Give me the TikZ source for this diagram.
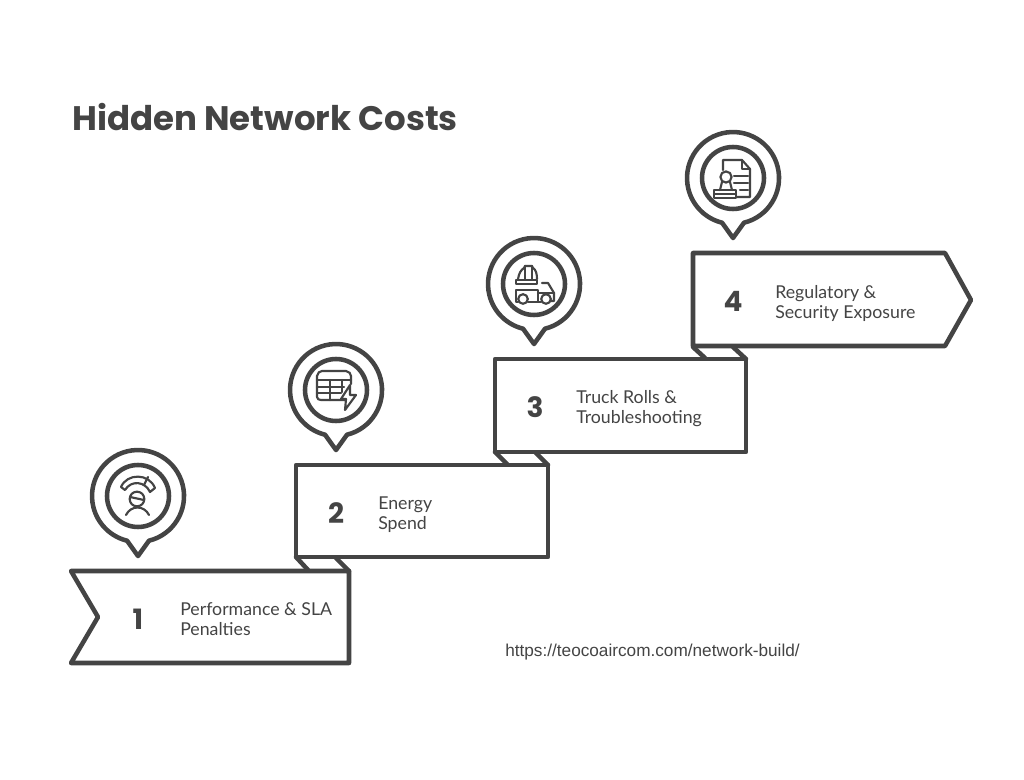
\documentclass[tikz,border=0pt]{standalone}
\usepackage{fontspec}
\setmainfont{Lato}
\newfontfamily\titlefont{Poppins}
\newfontfamily\urlfont{Liberation Sans}
\definecolor{inkGrey}{RGB}{68,68,68}

\begin{document}
\begin{tikzpicture}[x=0.75pt, y=-0.75pt, line join=round, line cap=round]%
  \tikzset{ribbon/.style={draw=inkGrey,fill=white,line width=3.4pt}}
  \tikzset{fold/.style={draw=inkGrey,line width=3.4pt}}
  \tikzset{pinline/.style={draw=inkGrey,fill=white,line width=3.4pt}}
  \tikzset{ringnode/.style={draw=inkGrey,circle,line width=3.4pt,minimum size=46.5pt,inner sep=0pt}}
  \tikzset{icon/.style={draw=inkGrey,line width=1.6pt}}
  \tikzset{stepnum/.style={text=inkGrey,font=\titlefont\bfseries\fontsize{21}{21}\selectfont,inner sep=0pt}}
  \tikzset{steptext/.style={text=inkGrey,anchor=west,align=left,inner sep=0pt,font=\fontsize{13.3}{15}\selectfont}}

  \useasboundingbox (0,0) rectangle (1024,780);

  \node[anchor=west, inner sep=0pt, text=inkGrey, font=\titlefont\bfseries\fontsize{25.5}{25.5}\selectfont] at (72,117) (title) {Hidden Network Costs};
  \node[anchor=west, inner sep=0pt, text=inkGrey, font=\urlfont\fontsize{12.9}{12.9}\selectfont] at (505,652) (url) {https://teocoaircom.com/network-build/};

  \draw[fold] (296,557) -- (308,570);
  \draw[fold] (336,558) -- (349,571);
  \draw[fold] (495,452) -- (507,464);
  \draw[fold] (535,452) -- (548,465);
  \draw[fold] (693,347) -- (705,358);
  \draw[fold] (733,347) -- (746,359);

  \draw[ribbon] (71,571) -- (349,571) -- (349,663) -- (71,663) -- (98,617) -- cycle;
  \draw[ribbon] (296,465) -- (548,465) -- (548,557) -- (296,557) -- cycle;
  \draw[ribbon] (495,359) -- (746,359) -- (746,452) -- (495,452) -- cycle;
  \draw[ribbon] (693,253) -- (945,253) -- (971,300) -- (945,346) -- (693,346) -- cycle;

  \foreach \n/\cx/\cy in {1/138/496, 2/336/390, 3/534/284, 4/733/178} {
    \draw[pinline] ({\cx+11},{\cy+44.7}) arc[start angle=-76.2, end angle=256.2, radius=34.5pt] -- ({\cx},{\cy+60}) -- cycle;
    \node[ringnode] at (\cx,\cy) (ring\n) {};
  }

  \node[stepnum] at (138,619) (num1) {1};
  \node[stepnum] at (336,513) (num2) {2};
  \node[stepnum] at (535,407) (num3) {3};
  \node[stepnum] at (733,301) (num4) {4};

  \node[steptext] at (180,619) (text1) {Performance \& SLA\\Penalties};
  \node[steptext] at (378,515) (text2) {Energy\\Spend};
  \node[steptext] at (576,409) (text3) {Truck Rolls \&\\Troubleshooting};
  \node[steptext] at (775,303) (text4) {Regulatory \&\\Security Exposure};

  \draw[icon] (121,487) .. controls (127,473) and (149,473) .. (155,488) -- (150,492) .. controls (145,481) and (131,480) .. (125,490) -- cycle;
  \draw[icon] (144,485) -- (148,477);
  \draw[icon] (137,499) circle[radius=5.5pt];
  \draw[icon] (130,497) -- (144,500);
  \draw[icon] (126,515) .. controls (131,505) and (144,505) .. (149,515);

  \draw[icon] (346,400) -- (321,400) .. controls (319,400) and (317,399) .. (317,397) -- (317,376) .. controls (317,373) and (320,371) .. (322,371) -- (346,371) .. controls (349,371) and (351,374) .. (351,376) -- (351,384);
  \draw[icon] (317,380) -- (351,380);
  \draw[icon] (317,387) -- (344,387);
  \draw[icon] (317,393) -- (341,393);
  \draw[icon] (330,380) -- (330,400);
  \draw[icon] (342,380) -- (342,392);
  \draw[icon] (350,385) -- (341,399) -- (346,399) -- (345,410) -- (356,395) -- (350,395) -- cycle;

  \draw[icon] (518,279) .. controls (519,273) and (521,270) .. (524,268) -- (525,266) -- (532,266) -- (533,268) .. controls (536,270) and (537,274) .. (537,279);
  \draw[icon] (525,266) -- (525,279);
  \draw[icon] (532,266) -- (532,279);
  \draw[icon] (516,280) rectangle (537,284);
  \draw[icon] (518,302) -- (516,302) -- (516,290) -- (538,290) -- (538,302) -- (528,302);
  \draw[icon] (523,299) circle[radius=3.6pt];
  \draw[icon] (546,299) circle[radius=3.6pt];
  \draw[icon] (538,302) -- (541,302);
  \draw[icon] (542,283) -- (548,283) -- (554,293) -- (554,301) -- (551,301);
  \draw[icon] (538,293) -- (554,293);

  \draw[icon] (723,170) -- (723,160) -- (742,160) -- (750,169) -- (750,197) -- (737,197);
  \draw[icon] (742,160) -- (742,169) -- (750,169);
  \draw[icon] (734,176) -- (748,176);
  \draw[icon] (734,183) -- (748,183);
  \draw[icon] (740,190) -- (748,190);
  \draw[icon] (726,177) circle[radius=4.2pt];
  \draw[icon] (722,182) -- (720,190);
  \draw[icon] (730,182) -- (732,190);
  \draw[icon] (714,190) rectangle (736,198);
  \draw[icon] (714,194) -- (736,194);
\end{tikzpicture}
\end{document}
